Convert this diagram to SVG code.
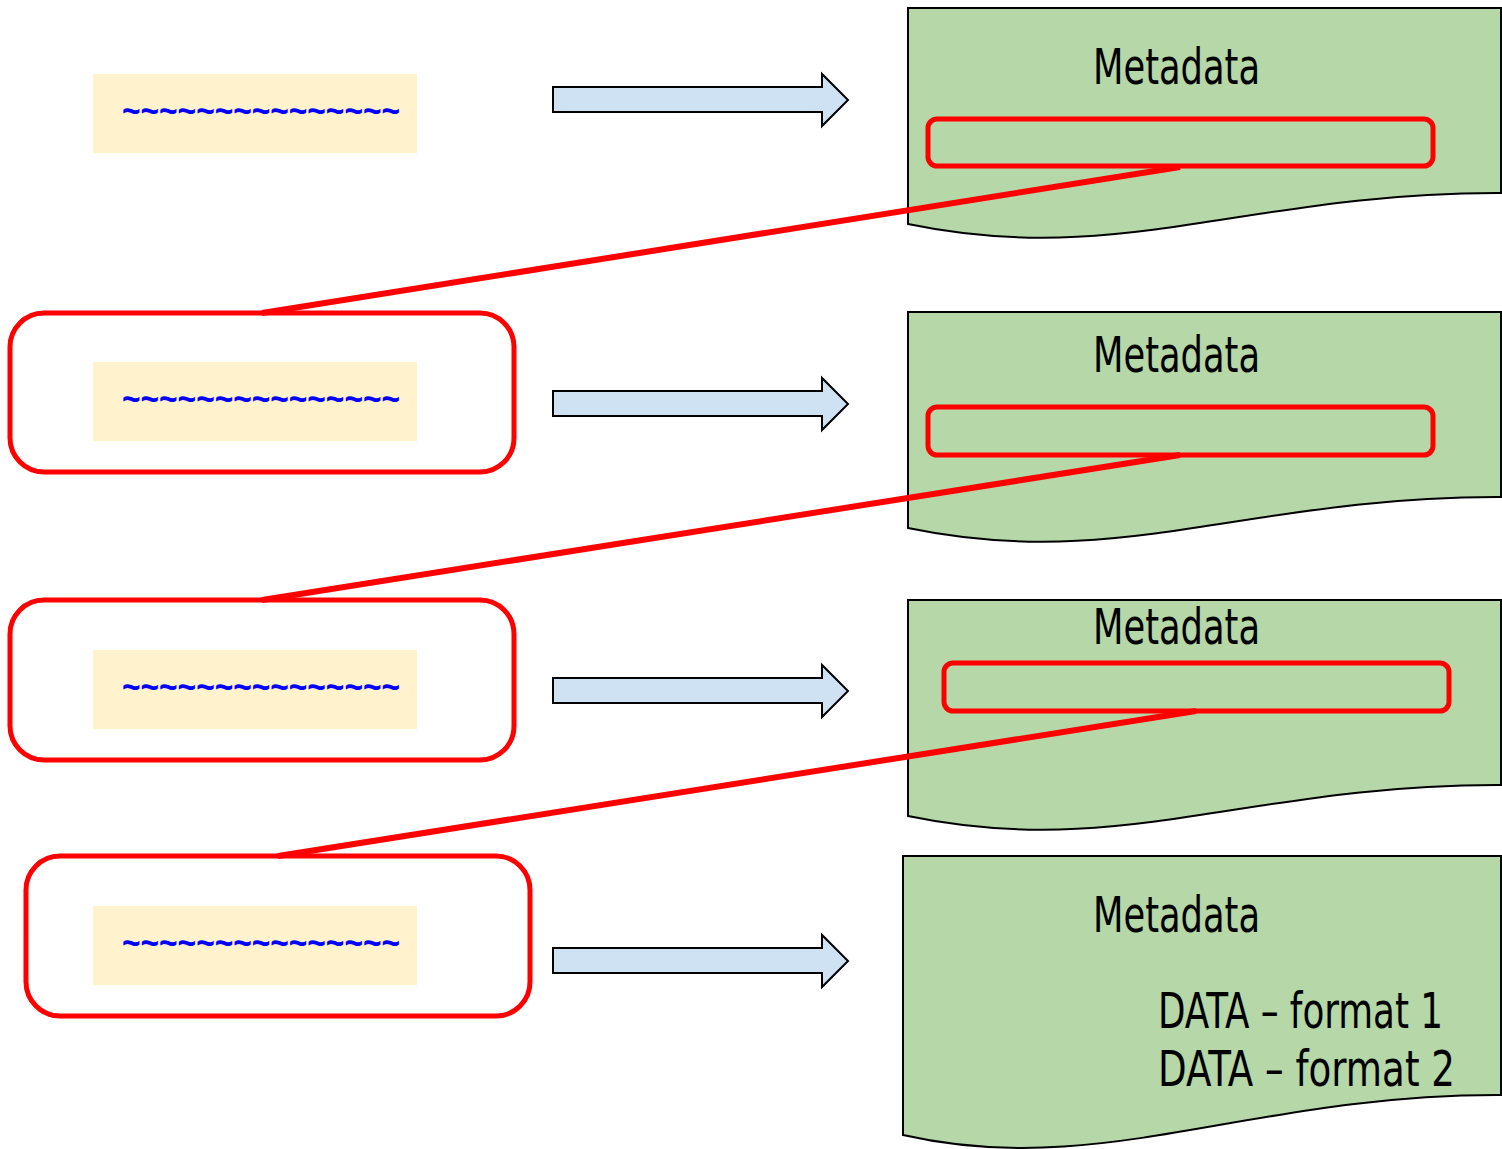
<svg xmlns="http://www.w3.org/2000/svg" width="1502" height="1149" viewBox="0 0 1502 1149">
<style>
.doc{fill:#b6d7a8;stroke:#000;stroke-width:2}
.src{fill:#fff2cc}
.til{font-family:"Liberation Sans",Arial,sans-serif;font-size:36px;font-weight:bold;fill:#0000ff}
.arr{fill:#cfe2f3;stroke:#000;stroke-width:2;stroke-linejoin:miter}
.hl{fill:none;stroke:#ff0000;stroke-width:5}
.big{fill:none;stroke:#ff0000;stroke-width:5}
.lbl{font-family:"Liberation Sans Narrow","DejaVu Sans Condensed","Liberation Sans",sans-serif;font-stretch:condensed;font-size:50px;fill:#000}
.link{stroke:#ff0000;stroke-width:6;fill:none}
</style>
<rect width="1502" height="1149" fill="#fff"/>

<g id="doc1">
<path class="doc" d="M908,8 H1501 V193 C1250,192 1120,268 908,224 Z"/>
<text class="lbl" x="1093" y="84" textLength="167" lengthAdjust="spacingAndGlyphs">Metadata</text>
<rect class="hl" x="928" y="119" width="505" height="47" rx="9"/>
</g>
<g id="doc2">
<path class="doc" d="M908,312 H1501 V497 C1250,496 1120,572 908,528 Z"/>
<text class="lbl" x="1093" y="372" textLength="167" lengthAdjust="spacingAndGlyphs">Metadata</text>
<rect class="hl" x="928" y="407" width="505" height="48" rx="9"/>
</g>
<g id="doc3">
<path class="doc" d="M908,600 H1501 V785 C1250,784 1120,860 908,816 Z"/>
<text class="lbl" x="1093" y="644" textLength="167" lengthAdjust="spacingAndGlyphs">Metadata</text>
<rect class="hl" x="944" y="663" width="505" height="48" rx="9"/>
</g>
<g id="doc4">
<path class="doc" d="M903,856 H1501 V1095 C1250,1094 1100,1180 903,1135 Z"/>
<text class="lbl" x="1093" y="932" textLength="167" lengthAdjust="spacingAndGlyphs">Metadata</text>
<text class="lbl" x="1158" y="1028" textLength="285" lengthAdjust="spacingAndGlyphs">DATA – format 1</text>
<text class="lbl" x="1158" y="1086" textLength="297" lengthAdjust="spacingAndGlyphs">DATA – format 2</text>
</g>

<g id="src1">
<rect class="src" x="93" y="74" width="324" height="79"/>
<text class="til" x="122" y="123" textLength="278" lengthAdjust="spacingAndGlyphs">~~~~~~~~~~~~~~~</text>
</g>
<g id="src2">
<rect class="big" x="10" y="313" width="504" height="159" rx="34"/>
<rect class="src" x="93" y="362" width="324" height="79"/>
<text class="til" x="122" y="411" textLength="278" lengthAdjust="spacingAndGlyphs">~~~~~~~~~~~~~~~</text>
</g>
<g id="src3">
<rect class="big" x="10" y="600" width="504" height="160" rx="34"/>
<rect class="src" x="93" y="650" width="324" height="79"/>
<text class="til" x="122" y="699" textLength="278" lengthAdjust="spacingAndGlyphs">~~~~~~~~~~~~~~~</text>
</g>
<g id="src4">
<rect class="big" x="26" y="856" width="504" height="160" rx="34"/>
<rect class="src" x="93" y="906" width="324" height="79"/>
<text class="til" x="122" y="955" textLength="278" lengthAdjust="spacingAndGlyphs">~~~~~~~~~~~~~~~</text>
</g>

<g id="connectors">
<path class="arr" d="M553,87 H822 V74 L848,100 L822,126 V112 H553 Z"/>
<path class="arr" d="M553,391 H822 V378 L848,404 L822,430 V416 H553 Z"/>
<path class="arr" d="M553,678 H822 V665 L848,691 L822,717 V703 H553 Z"/>
<path class="arr" d="M553,948 H822 V935 L848,961 L822,987 V973 H553 Z"/>
<line class="link" x1="262" y1="313" x2="1180" y2="167"/>
<line class="link" x1="262" y1="600" x2="1180" y2="455"/>
<line class="link" x1="278" y1="856" x2="1196" y2="711"/>
</g>
</svg>
